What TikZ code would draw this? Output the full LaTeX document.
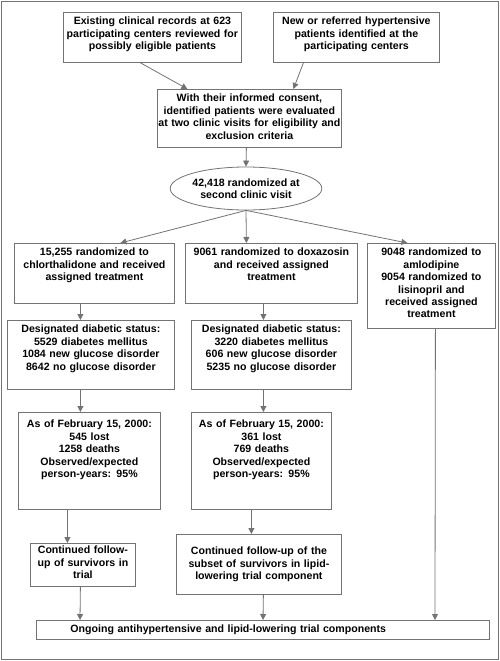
\documentclass[tikz,border=0pt]{standalone}
\usepackage{fontspec}
\setmainfont{Liberation Sans}
\usetikzlibrary{shapes.geometric,arrows.meta}
\tikzstyle{bx}=[shape=rectangle,
                draw=black!55,
                anchor=north west,
                align=center,
                text height=8pt,
                inner xsep=0pt,
                inner ysep=4.5pt,
                font=\bfseries\fontsize{10.6}{12.4}\selectfont]
\tikzstyle{ov}=[shape=ellipse,
                draw=black!55,
                minimum width=147pt,
                minimum height=43pt,
                inner sep=0pt,
                align=center,
                font=\bfseries\fontsize{10.6}{12.4}\selectfont]

\begin{document}
\begin{tikzpicture}[x=1pt,y=-1pt,>={Triangle[length=6pt,width=6pt]},line width=0.8pt]
\useasboundingbox (0,0) rectangle (500,661);
\draw[black!55] (1,1) rectangle (498.5,659);

\node[bx, text width=178pt, text depth=33pt] (records) at (63,12)
  {Existing clinical records at 623\\ participating centers reviewed for\\ possibly eligible patients};
\node[bx, text width=166pt, text depth=33pt] (referred) at (273,12)
  {New or referred hypertensive\\ patients identified at the\\ participating centers};
\node[bx, text width=184pt, text depth=41pt] (consent) at (157,89)
  {With their informed consent,\\ identified patients were evaluated\\ at two clinic visits for eligibility and\\ exclusion criteria};
\node[ov] (rand) at (246,188.5) {42,418 randomized at\\ second clinic visit};

% chlorthalidone arm
\node[bx, text width=160pt, text depth=43pt] (chl) at (14,243)
  {15,255 randomized to\\ chlorthalidone and received\\ assigned treatment};
\node[bx, text width=167pt, text depth=52pt] (chldiab) at (7,320)
  {Designated diabetic status:\\ 5529 diabetes mellitus\\ 1084 new glucose disorder\\ 8642 no glucose disorder};
\node[bx, text width=142pt, text height=11pt, text depth=77pt] (chlstat) at (18,412)
  {As of February 15, 2000:\\ 545 lost\\ 1258 deaths\\ Observed/expected\\ person-years: 95\%};
\node[bx, text width=105pt, text height=6pt, text depth=28pt] (chlfu) at (30,543)
  {Continued follow-\\ up of survivors in\\ trial};

% doxazosin arm
\node[bx, text width=172pt, text depth=43pt] (dox) at (185,243)
  {9061 randomized to doxazosin\\ and received assigned\\ treatment};
\node[bx, text width=160pt, text depth=52pt] (doxdiab) at (191,320)
  {Designated diabetic status:\\ 3220 diabetes mellitus\\ 606 new glucose disorder\\ 5235 no glucose disorder};
\node[bx, text width=140pt, text height=11pt, text depth=77pt] (doxstat) at (191,412)
  {As of February 15, 2000:\\ 361 lost\\ 769 deaths\\ Observed/expected\\ person-years: 95\%};
\node[bx, text width=165pt, text height=16pt, text depth=35pt] (doxfu) at (176,534)
  {Continued follow-up of the\\ subset of survivors in lipid-\\ lowering trial component};

% amlodipine / lisinopril
\node[bx, text width=128pt, text depth=68pt] (aml) at (367,243)
  {9048 randomized to\\ amlodipine\\ 9054 randomized to\\ lisinopril and\\ received assigned\\ treatment};

\node[bx, text width=453pt, text depth=2pt, align=left] (ongoing) at (36,620)
  {\hspace*{34pt}Ongoing antihypertensive and lipid-lowering trial components};

\path[->,black!55]
  ([xshift=-12pt]records.south) edge ([xshift=-62pt]consent.north)
  ([xshift=-53pt]referred.south) edge ([xshift=44pt]consent.north)
  ([xshift=-3pt]consent.south) edge (rand.north)

  (rand.south) edge ([xshift=26pt]chl.north)
  (rand.south) edge ([xshift=-25pt]dox.north)
  (rand.south) edge ([xshift=-24pt]aml.north)

  ([xshift=-14pt]chl.south) edge ([xshift=-10.5pt]chldiab.north)
  ([xshift=-10.5pt]chldiab.south) edge ([xshift=-9pt]chlstat.north)
  ([xshift=-22pt]chlstat.south) edge ([xshift=-15.5pt]chlfu.north)
  ([xshift=-2.5pt]chlfu.south) edge ([xshift=44pt]ongoing.north west)

  ([xshift=-8pt]dox.south) edge ([xshift=-8pt]doxdiab.north)
  ([xshift=-8pt]doxdiab.south) edge ([xshift=2pt]doxstat.north)
  ([xshift=-10pt]doxstat.south) edge ([xshift=-7.5pt]doxfu.north)
  ([xshift=4.5pt]doxfu.south) edge ([xshift=227pt]ongoing.north west)

  ([xshift=4pt]aml.south) edge ([xshift=399pt]ongoing.north west);
\end{tikzpicture}
\end{document}
